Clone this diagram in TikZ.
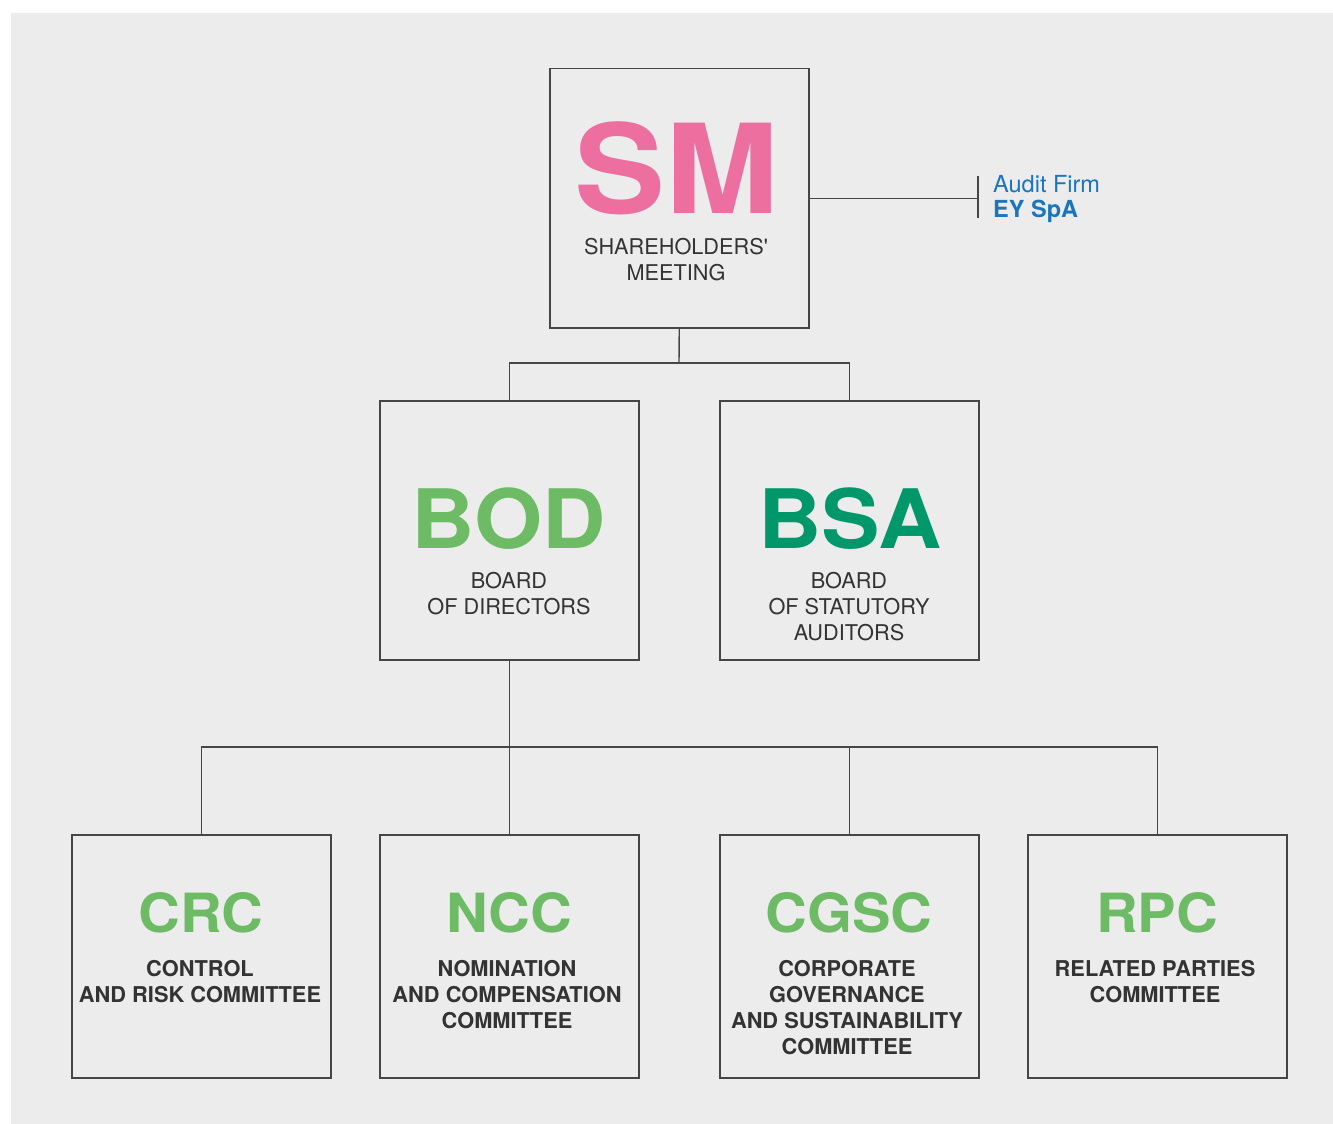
\documentclass[tikz,border=0pt]{standalone}
\usepackage{fontspec}
\setmainfont{TeX Gyre Heros}
\newfontfamily\bigfont[FakeStretch=1.07]{TeX Gyre Heros}
\newfontfamily\smfont[FakeStretch=1.1]{TeX Gyre Heros}
\definecolor{bgc}{HTML}{ECECEC}
\definecolor{linec}{HTML}{454545}
\definecolor{pinkc}{HTML}{EC6FA0}
\definecolor{lgreen}{HTML}{6DBB65}
\definecolor{dgreen}{HTML}{00976A}
\definecolor{bluec}{HTML}{1A75BC}
\definecolor{txtc}{HTML}{333333}
\begin{document}
\begin{tikzpicture}[x=1pt,y=-1pt,
  box/.style={draw=linec,line width=1.5pt,minimum width=259pt,minimum height=259pt,inner sep=0pt,anchor=north west},
  cbox/.style={draw=linec,line width=1.5pt,minimum width=259pt,minimum height=243pt,inner sep=0pt,anchor=north west},
  conn/.style={draw=linec,line width=1.4pt},
  bigt/.style={anchor=base,inner sep=0pt,text depth=0pt,font=\smfont\fontsize{124}{124}\selectfont\bfseries},
  midt/.style={anchor=base,inner sep=0pt,text depth=0pt,font=\bigfont\fontsize{82}{82}\selectfont\bfseries},
  smt/.style={anchor=base,inner sep=0pt,text depth=0pt,font=\bigfont\fontsize{54}{54}\selectfont\bfseries,text=lgreen},
  sub/.style={anchor=base,inner sep=0pt,align=center,text=txtc,font=\fontsize{21.7}{26}\selectfont},
  subb/.style={anchor=base,inner sep=0pt,align=center,text=txtc,font=\fontsize{21.8}{26}\selectfont\bfseries}
]
\useasboundingbox (0,0) rectangle (1333,1124);
\fill[bgc] (11,13) rectangle (1333,1124);

\node[box] (sm) at (549,68) {};
\node[box] (bod) at (379,400) {};
\node[box] (bsa) at (719,400) {};
\node[cbox] (crc) at (71,834) {};
\node[cbox] (ncc) at (379,834) {};
\node[cbox] (cgsc) at (719,834) {};
\node[cbox] (rpc) at (1027,834) {};

% anchor=base of a multi-line text is the baseline of its last line
\node[bigt,text=pinkc] (smt) at (677,213) {SM};
\node[sub] (sms) at (676,280) {SHAREHOLDERS\textquotesingle\\MEETING};
\node[midt,text=lgreen] (bodt) at (509,548) {BOD};
\node[sub] (bods) at (509,614) {BOARD\\OF DIRECTORS};
\node[midt,text=dgreen] (bsat) at (850,548) {BSA};
\node[sub] (bsas) at (849,640) {BOARD\\OF STATUTORY\\AUDITORS};
\node[smt] (crct) at (201,932) {CRC};
\node[subb] (crcs) at (200,1002) {CONTROL\\AND RISK COMMITTEE};
\node[smt] (ncct) at (509,932) {NCC};
\node[subb] (nccs) at (507,1028) {NOMINATION\\AND COMPENSATION\\COMMITTEE};
\node[smt] (cgsct) at (849,932) {CGSC};
\node[subb] (cgscs) at (847,1054) {CORPORATE\\GOVERNANCE\\AND SUSTAINABILITY\\COMMITTEE};
\node[smt] (rpct) at (1157,932) {RPC};
\node[subb] (rpcs) at (1155,1002) {RELATED PARTIES\\COMMITTEE};

% connectors
\coordinate (j1) at (679,363);
\coordinate (j2) at (509,747);
\draw[conn] (sm.south) -- (j1);
\draw[conn] (j1) -| (bod.north);
\draw[conn] (j1) -| (bsa.north);
\draw[conn] (bod.south) -- (ncc.north);
\draw[conn] (j2) -| (crc.north);
\draw[conn] (j2) -| (cgsc.north);
\draw[conn] (j2) -| (rpc.north);

% audit firm
\coordinate (abart) at (978,176);
\coordinate (abarb) at (978,218);
\draw[conn] (sm.east) -- (sm.east -| abart);
\draw[conn] (abart) -- (abarb);
\node[anchor=base west,inner sep=0pt,text=bluec,font=\fontsize{23.5}{25}\selectfont,align=left] (audit) at (993,217) {Audit Firm\\\textbf{EY SpA}};
\end{tikzpicture}
\end{document}
